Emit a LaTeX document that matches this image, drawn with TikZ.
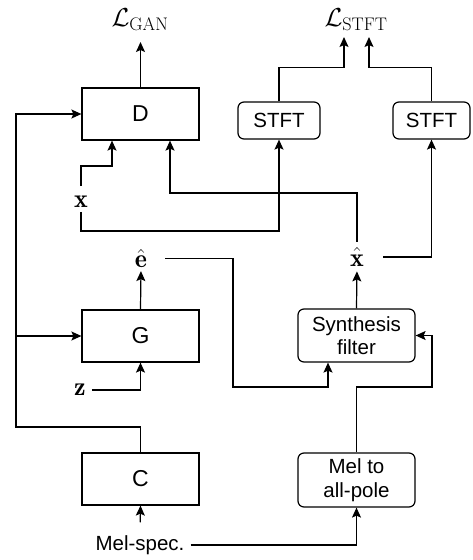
\RequirePackage{fix-cm}
\documentclass[tikz,border=0pt]{standalone}
\usepackage{fontspec}
\setsansfont{Liberation Sans}
\usetikzlibrary{arrows.meta}
\tikzset{
  blk/.style={draw, line width=1.2pt, minimum width=117pt, minimum height=52pt, inner sep=2pt,
    font=\sffamily\fontsize{23}{26}\selectfont},
  rblk/.style={blk, rounded corners=6pt, align=center, font=\sffamily\fontsize{20.5}{23.5}\selectfont},
  lbl/.style={inner sep=0pt, font=\fontsize{26}{30}\selectfont},
  wire/.style={line width=1.2pt, -{Stealth[length=10pt,width=9pt,inset=2pt]}},
}
\begin{document}
\begin{tikzpicture}[x=1pt,y=-1pt]
  \useasboundingbox (0,0) rectangle (473,560);
  % blocks
  \node[blk] (D) at (140.5,114) {D};
  \node[blk] (G) at (140.5,336) {G};
  \node[blk] (C) at (140.5,479) {C};
  \node[rblk, minimum width=82pt, minimum height=37pt] (S1) at (279,120.5) {STFT};
  \node[rblk, minimum width=77pt, minimum height=37pt] (S2) at (431.5,120.5) {STFT};
  \node[rblk, minimum height=53pt] (SF) at (356.5,335.5) {Synthesis\\filter};
  \node[rblk, minimum height=54pt] (M2A) at (356.5,480) {Mel to\\all-pole};
  % labels
  \node[lbl] (lgan) at (140,19.5) {$\mathcal{L}_{\mathrm{GAN}}$};
  \node[lbl] (lstft) at (356,19.5) {$\mathcal{L}_{\mathrm{STFT}}$};
  \node[lbl] (x) at (81,202) {$\mathbf{x}$};
  \node[lbl] (z) at (80,390) {$\mathbf{z}$};
  \node[lbl] (e) at (141,258.5) {$\hat{\mathbf{e}}$};
  \node[lbl] (xh) at (357,257) {$\hat{\mathbf{x}}$};
  \node[lbl, font=\sffamily\fontsize{20.5}{23.5}\selectfont] (mel) at (140,545) {Mel-spec.};
  % bends
  \coordinate (gan in) at (140.5,42);
  \coordinate (stft in a) at (344,37);
  \coordinate (stft in b) at (369,37);
  \coordinate (fb) at (16,427);
  \coordinate (xbend) at (112,166);
  \coordinate (xrow) at (0,231);
  \coordinate (drow) at (170,193);
  \coordinate (erow) at (233,387);
  \coordinate (mrow) at (432,387);
  % connectors
  \draw[wire] (D.north) -- (gan in);
  \draw[wire] (S1.north) -- ++(0,-34) -| (stft in a);
  \draw[wire] (S2.north) -- ++(0,-34) -| (stft in b);
  \draw[wire] (C.north) |- (fb) |- (D.west);
  \draw[wire] (fb |- G.west) -- (G.west);
  \draw[wire, shorten <=10pt] (x.north) |- (xbend) -- (xbend |- D.south);
  \draw[wire, shorten <=4pt] (x.south) |- (S1.south |- xrow) -- (S1.south);
  \draw[wire, shorten <=6pt] (xh.north) |- (drow) -- (drow |- D.south);
  \draw[wire, shorten <=19pt] (xh.east) -| (S2.south);
  \draw[wire, shorten >=3pt] (G.north) -- (e.south);
  \draw[wire, shorten >=5pt] (SF.north) -- (xh.south);
  \draw[wire, shorten <=18pt] (e.east) -| (erow) -| ([xshift=-28.5pt]SF.south);
  \draw[wire, shorten <=6pt] (z.east) -| (G.south);
  \draw[wire, shorten <=13pt] (mel.north) -- (C.south);
  \draw[wire, shorten <=6pt] (mel.east) -| (M2A.south);
  \draw[wire] (M2A.north) |- (mrow) |- (SF.east);
\end{tikzpicture}
\end{document}
